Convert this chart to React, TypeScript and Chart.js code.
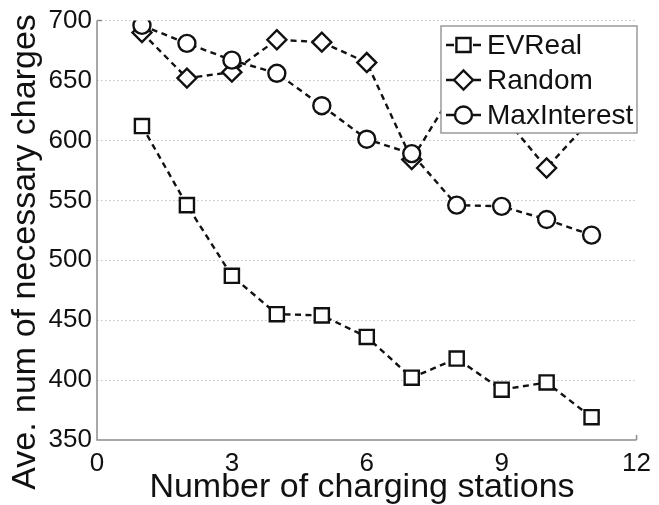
import React, { useEffect, useRef } from "react";
import { Chart, registerables } from "chart.js";

Chart.register(...registerables);

const stations = [1, 2, 3, 4, 5, 6, 7, 8, 9, 10, 11];
const evReal = [612, 546, 487, 455, 454, 436, 402, 418, 392, 398, 369];
const randomSel = [690, 652, 657, 684, 682, 665, 584, 645, 622, 577, 618];
const maxInterest = [696, 681, 667, 656, 629, 601, 589, 546, 545, 534, 521];
const seriesNames = ["EVReal", "Random", "MaxInterest"];
const xTicks = [0, 3, 6, 9, 12];
const yTicks = [350, 400, 450, 500, 550, 600, 650, 700];
const xTitle = "Number of charging stations";
const yTitle = "Ave. num of necessary charges";

const FONT = "'Liberation Sans', Arial, Helvetica, sans-serif";
const INK = "#111";
const AXIS = "#8c8c8c";
const LW = 2.4;

type Marker = { style: string; r: number };
const markers: Marker[] = [
  { style: "rect", r: 10 },
  { style: "rectRot", r: 9.5 },
  { style: "circle", r: 8.5 },
];

function drawMarker(ctx: CanvasRenderingContext2D, m: Marker, x: number, y: number) {
  ctx.beginPath();
  if (m.style === "rect") {
    const s = Math.SQRT1_2 * m.r;
    ctx.rect(x - s, y - s, 2 * s, 2 * s);
  } else if (m.style === "rectRot") {
    ctx.moveTo(x - m.r, y);
    ctx.lineTo(x, y - m.r);
    ctx.lineTo(x + m.r, y);
    ctx.lineTo(x, y + m.r);
    ctx.closePath();
  } else {
    ctx.arc(x, y, m.r, 0, Math.PI * 2);
  }
  ctx.fillStyle = "#fff";
  ctx.fill();
  ctx.lineWidth = LW;
  ctx.strokeStyle = INK;
  ctx.stroke();
}

const decorPlugin = {
  id: "decor",
  beforeDatasetsDraw(chart: any) {
    // solid axis lines over the dotted grid
    const ctx: CanvasRenderingContext2D = chart.ctx;
    const xs = chart.scales.x;
    const ys = chart.scales.y;
    ctx.save();
    ctx.strokeStyle = AXIS;
    ctx.lineWidth = 1.5;
    ctx.setLineDash([]);
    ctx.beginPath();
    ctx.moveTo(xs.left, ys.top);
    ctx.lineTo(xs.left, ys.bottom);
    ctx.lineTo(xs.right, ys.bottom);
    const xr = xs.getPixelForValue(xTicks[xTicks.length - 1]);
    ctx.moveTo(xr, ys.bottom);
    ctx.lineTo(xr, ys.bottom - 5);
    const yt = ys.getPixelForValue(yTicks[yTicks.length - 1]);
    ctx.moveTo(xs.left, yt);
    ctx.lineTo(xs.left + 5, yt);
    ctx.stroke();
    ctx.restore();
  },
  afterDatasetsDraw(chart: any) {
    const ctx: CanvasRenderingContext2D = chart.ctx;
    ctx.save();
    ctx.setLineDash([]);
    // legend
    const lx = 441, ly = 26, lw = 196, lh = 107;
    ctx.fillStyle = "#fff";
    ctx.fillRect(lx, ly, lw, lh);
    ctx.strokeStyle = "#999";
    ctx.lineWidth = 1.5;
    ctx.strokeRect(lx, ly, lw, lh);
    const rows = [45, 80, 115];
    ctx.font = `28px ${FONT}`;
    ctx.textBaseline = "middle";
    ctx.textAlign = "left";
    seriesNames.forEach((name, i) => {
      const cy = rows[i];
      ctx.strokeStyle = INK;
      ctx.lineWidth = LW;
      ctx.beginPath();
      ctx.moveTo(446, cy);
      ctx.lineTo(454, cy);
      ctx.moveTo(473, cy);
      ctx.lineTo(481, cy);
      ctx.stroke();
      drawMarker(ctx, markers[i], 463.5, cy);
      ctx.fillStyle = INK;
      ctx.fillText(name, 487, cy + 1);
    });

    // axis titles
    ctx.fillStyle = INK;
    ctx.font = `34px ${FONT}`;
    ctx.textAlign = "center";
    ctx.textBaseline = "alphabetic";
    ctx.fillText(xTitle, 362, 497);
    ctx.translate(35, 252);
    ctx.rotate(-Math.PI / 2);
    ctx.fillText(yTitle, 0, 0);
    ctx.restore();
  },
};

export default function App() {
  const ref = useRef<HTMLCanvasElement | null>(null);
  useEffect(() => {
    if (!ref.current) return;
    const mk = (label: string, data: number[], i: number, order: number) => ({
      label,
      data: stations.map((x, k) => ({ x, y: data[k] })),
      borderColor: INK,
      borderWidth: LW,
      borderDash: [6, 4.5],
      backgroundColor: "#fff",
      pointStyle: markers[i].style,
      pointRadius: markers[i].r,
      pointBorderWidth: LW,
      pointBorderColor: INK,
      pointBackgroundColor: "#fff",
      tension: 0,
      fill: false,
      order,
    });
    const chart = new Chart(ref.current, {
      type: "line",
      data: {
        datasets: [
          mk(seriesNames[0], evReal, 0, 0),
          mk(seriesNames[1], randomSel, 1, 2),
          mk(seriesNames[2], maxInterest, 2, 1),
        ],
      },
      options: {
        animation: false,
        responsive: false,
        events: [],
        layout: { padding: { left: 0, top: 20, right: 17, bottom: 0 } },
        plugins: { legend: { display: false }, tooltip: { enabled: false }, title: { display: false } },
        scales: {
          x: {
            type: "linear",
            min: 0,
            max: 12,
            afterFit: (s: any) => { s.height = 65; },
            afterBuildTicks: (s: any) => { s.ticks = xTicks.map((v) => ({ value: v })); },
            grid: { display: false, drawTicks: false },
            border: { display: false },
            ticks: { color: INK, font: { family: FONT, size: 26 }, padding: 8, maxRotation: 0, autoSkip: false },
          },
          y: {
            type: "linear",
            min: 350,
            max: 700,
            afterFit: (s: any) => { s.width = 97; },
            afterBuildTicks: (s: any) => { s.ticks = yTicks.map((v) => ({ value: v })); },
            grid: {
              display: true,
              drawTicks: false,
              color: (c: any) => (c.tick && c.tick.value === 350 ? "rgba(0,0,0,0)" : "#c4c4c4"),
              lineWidth: 1,
            },
            border: { display: false, dash: [1.5, 2.5] },
            ticks: { color: INK, font: { family: FONT, size: 26 }, padding: 5, autoSkip: false },
          },
        },
      },
      plugins: [decorPlugin],
    } as any);
    return () => chart.destroy();
  }, []);
  return (
    <div style={{ position: "absolute", left: 0, top: 0, width: 659, height: 505, background: "#fff" }}>
      <canvas ref={ref} width={659} height={505} style={{ display: "block" }} />
    </div>
  );
}
